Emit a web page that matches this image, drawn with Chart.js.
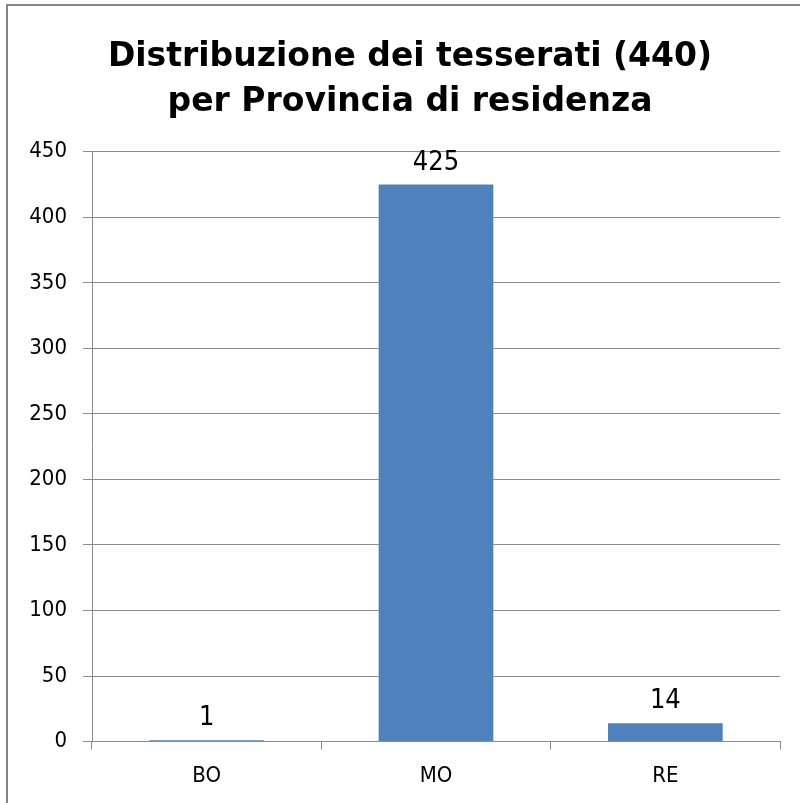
<!DOCTYPE html>
<html>
<head>
<meta charset="utf-8">
<script src="https://cdn.jsdelivr.net/npm/chart.js@4/dist/chart.umd.min.js"></script>
<style>
  html, body { margin: 0; padding: 0; background: #fff; }
  #box { position: relative; width: 800px; height: 803px; overflow: hidden; }
</style>
</head>
<body>
<div id="box"><canvas id="grafico" width="800" height="803"></canvas></div>
<script>
// dati
const province = ["BO", "MO", "RE"];
const tesserati = [1, 425, 14];
const tickY = [0, 50, 100, 150, 200, 250, 300, 350, 400, 450];
const titolo = ["Distribuzione dei tesserati (440)", "per Provincia di residenza"];

const grigio = "#8c8c8c";
const fontStretto = "'DejaVu Sans Condensed', 'DejaVu Sans', sans-serif";

// cornice e sfondo, titolo spostato un po' a destra
const cornice = {
  id: "cornice",
  afterLayout(chart) {
    if (chart.titleBlock) {
      chart.titleBlock.left += 20;
      chart.titleBlock.right += 20;
    }
  },
  beforeDraw(chart) {
    const c = chart.ctx;
    c.save();
    c.fillStyle = "#fff";
    c.fillRect(0, 0, chart.width, chart.height);
    c.strokeStyle = "#868686";
    c.lineWidth = 2;
    c.strokeRect(7, 5, chart.width + 20, chart.height + 20);
    c.restore();
  },
};

// etichette sopra le barre
const etichette = {
  id: "etichette",
  afterDatasetsDraw(chart) {
    const c = chart.ctx;
    const meta = chart.getDatasetMeta(0);
    c.save();
    c.font = "27px " + fontStretto;
    c.fillStyle = "#000";
    c.textAlign = "center";
    c.textBaseline = "alphabetic";
    meta.data.forEach((bar, i) => {
      c.fillText(String(tesserati[i]), bar.x, bar.y - 15);
    });
    c.restore();
  },
};

const ctx = document.querySelector("#grafico").getContext("2d");

new Chart(ctx, {
  type: "bar",
  data: {
    labels: province,
    datasets: [
      {
        data: tesserati,
        backgroundColor: "#4f81bd",
        barPercentage: 0.5,
        categoryPercentage: 1,
      },
    ],
  },
  options: {
    responsive: false,
    animation: false,
    layout: { padding: { left: 0, right: 20, top: 35, bottom: 1 } },
    plugins: {
      legend: { display: false },
      tooltip: { enabled: false },
      title: {
        display: true,
        text: titolo,
        color: "#000",
        font: { family: "'DejaVu Sans', sans-serif", size: 33, weight: "bold", lineHeight: 1.36 },
        padding: { top: 0, bottom: 27 },
      },
    },
    scales: {
      x: {
        grid: { drawOnChartArea: false, drawTicks: true, tickLength: 8, color: grigio, offset: true },
        border: { color: grigio, width: 1 },
        ticks: { color: "#000", font: { family: fontStretto, size: 22 }, padding: 13 },
      },
      y: {
        min: 0,
        max: 450,
        afterBuildTicks(scale) {
          scale.ticks = tickY.map((v) => ({ value: v }));
        },
        afterFit(scale) {
          scale.width = 92;
        },
        grid: { color: grigio, tickLength: 9 },
        border: { color: grigio, width: 1 },
        ticks: { color: "#000", font: { family: fontStretto, size: 22 }, padding: 16 },
      },
    },
  },
  plugins: [cornice, etichette],
});
</script>
</body>
</html>
